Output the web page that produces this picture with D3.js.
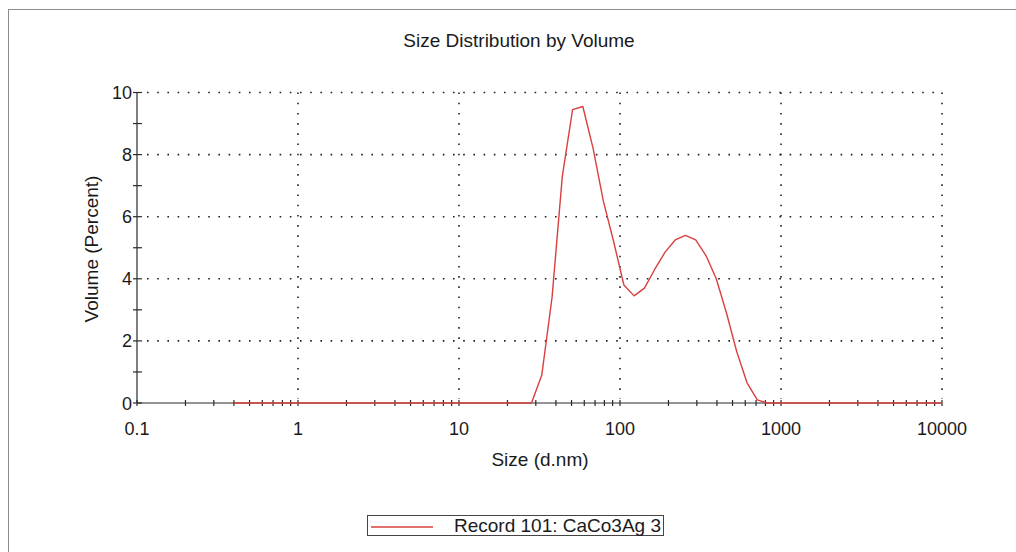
<!DOCTYPE html>
<html>
<head>
<meta charset="utf-8">
<script src="https://cdn.jsdelivr.net/npm/d3@7"></script>
<style>
  html, body { margin: 0; padding: 0; background: #fff; }
  svg { display: block; }
  text { font-family: "Liberation Sans", Arial, sans-serif; fill: #1a1a1a; }
</style>
</head>
<body>
<svg id="chart" width="1016" height="552"></svg>
<script>
// Size bins (d.nm) of the distribution
const sizes = [0.4, 0.4632, 0.5365, 0.6213, 0.7195, 0.8332, 0.9649,
  1.117, 1.294, 1.499, 1.736, 2.01, 2.328, 2.696, 3.122, 3.615, 4.187, 4.849, 5.615, 6.503, 7.531, 8.721,
  10.1, 11.7, 13.54, 15.69, 18.17, 21.04, 24.36, 28.21, 32.67, 37.84, 43.82, 50.75, 58.77, 68.06, 78.82, 91.28,
  105.7, 122.4, 141.8, 164.2, 190.1, 220.2, 255, 295.3, 342, 396.1, 458.7, 531.2, 615.1, 712.4, 825, 955.4,
  1106, 1281, 1484, 1718, 1990, 2305, 2669, 3091, 3580, 4145, 4801, 5560, 6439, 7456, 8635, 10000];

// Volume (%) for each bin
const volumes = [0, 0, 0, 0, 0, 0, 0,
  0, 0, 0, 0, 0, 0, 0, 0, 0, 0, 0, 0, 0, 0, 0,
  0, 0, 0, 0, 0, 0, 0, 0, 0.9, 3.4, 7.3, 9.45, 9.55, 8.2, 6.5, 5.2,
  3.8, 3.45, 3.7, 4.3, 4.85, 5.25, 5.4, 5.25, 4.75, 4.0, 2.9, 1.65, 0.65, 0.1, 0, 0,
  0, 0, 0, 0, 0, 0, 0, 0, 0, 0, 0, 0, 0, 0, 0, 0];

const xMajorTicks = [0.1, 1, 10, 100, 1000, 10000];
const xTickLabels = ["0.1", "1", "10", "100", "1000", "10000"];
const yMajorTicks = [0, 2, 4, 6, 8, 10];
const yMinorTicks = [1, 3, 5, 7, 9];
const minorMultipliers = [2, 3, 4, 5, 6, 7, 8, 9];

const chartTitle = "Size Distribution by Volume";
const xTitle = "Size (d.nm)";
const yTitle = "Volume (Percent)";
const seriesName = "Record 101: CaCo3Ag 3";

const svg = d3.select("#chart");
const plotLeft = 137, plotRight = 942, plotTop = 92.5, plotBottom = 403;
const lineColor = "#d8403f";
const axisColor = "#2b2b2b";
const tickFont = 18, labelFont = 19;

const x = d3.scaleLog().domain([0.1, 10000]).range([plotLeft, plotRight]);
const y = d3.scaleLinear().domain([0, 10]).range([plotBottom, plotTop]);

// outer frame
svg.append("rect")
  .attr("x", 8.5).attr("y", 9.5)
  .attr("width", 1100).attr("height", 700)
  .attr("fill", "none").attr("stroke", "#8c8c8c").attr("stroke-width", 1);

// title
svg.append("text")
  .attr("x", 519).attr("y", 47)
  .attr("text-anchor", "middle")
  .attr("font-size", labelFont)
  .text(chartTitle);

// dotted grid
const grid = svg.append("g")
  .attr("stroke", "#222").attr("stroke-width", 1.6)
  .attr("stroke-dasharray", "1.6,8.6");
grid.selectAll("line.h").data(yMajorTicks.filter(d => d > 0)).join("line")
  .attr("x1", plotLeft + 10).attr("x2", plotRight)
  .attr("y1", d => y(d)).attr("y2", d => y(d));
grid.selectAll("line.v").data(xMajorTicks.filter(d => d > 0.1)).join("line")
  .attr("x1", d => x(d)).attr("x2", d => x(d))
  .attr("y1", plotTop).attr("y2", plotBottom - 4);

// y axis
const yAxis = svg.append("g").attr("stroke", axisColor).attr("stroke-width", 1.2);
yAxis.append("line").attr("x1", plotLeft).attr("x2", plotLeft).attr("y1", plotTop).attr("y2", plotBottom);
yAxis.selectAll("line.t").data(yMajorTicks.concat(yMinorTicks)).join("line")
  .attr("x1", plotLeft - 4).attr("x2", plotLeft + 5)
  .attr("y1", d => y(d)).attr("y2", d => y(d));
svg.append("g").selectAll("text").data(yMajorTicks).join("text")
  .attr("x", plotLeft - 5).attr("y", d => y(d) + 6.5)
  .attr("text-anchor", "end").attr("font-size", tickFont)
  .text(d => d);

// x axis
const xMinor = [];
xMajorTicks.slice(0, -1).forEach(dec => minorMultipliers.forEach(m => xMinor.push(dec * m)));
const xAxis = svg.append("g").attr("stroke", axisColor).attr("stroke-width", 1.2);
xAxis.append("line").attr("x1", plotLeft).attr("x2", plotRight).attr("y1", plotBottom).attr("y2", plotBottom);
xAxis.selectAll("line.t").data(xMajorTicks.concat(xMinor)).join("line")
  .attr("x1", d => x(d)).attr("x2", d => x(d))
  .attr("y1", plotBottom - 3).attr("y2", plotBottom + 3);
svg.append("g").selectAll("text").data(xMajorTicks).join("text")
  .attr("x", d => x(d)).attr("y", 435)
  .attr("text-anchor", "middle").attr("font-size", tickFont)
  .text((d, i) => xTickLabels[i]);

// axis titles
svg.append("text")
  .attr("x", 540).attr("y", 466)
  .attr("text-anchor", "middle").attr("font-size", labelFont)
  .text(xTitle);
svg.append("text")
  .attr("transform", "translate(98,249) rotate(-90)")
  .attr("text-anchor", "middle").attr("font-size", labelFont)
  .text(yTitle);

// distribution curve
const line = d3.line()
  .x(d => x(d[0]))
  .y(d => y(d[1]));
svg.append("path")
  .datum(sizes.map((s, i) => [s, volumes[i]]))
  .attr("d", line)
  .attr("fill", "none")
  .attr("stroke", lineColor)
  .attr("stroke-width", 1.4)
  .attr("stroke-linejoin", "round");

// legend
const legend = svg.append("g");
legend.append("rect")
  .attr("x", 367.5).attr("y", 515.5).attr("width", 296).attr("height", 20)
  .attr("fill", "#fff").attr("stroke", "#444").attr("stroke-width", 1);
legend.append("line")
  .attr("x1", 371).attr("x2", 433).attr("y1", 527).attr("y2", 527)
  .attr("stroke", lineColor).attr("stroke-width", 1.4);
legend.append("text")
  .attr("x", 661).attr("y", 532)
  .attr("text-anchor", "end").attr("font-size", labelFont)
  .text(seriesName);
</script>
</body>
</html>
